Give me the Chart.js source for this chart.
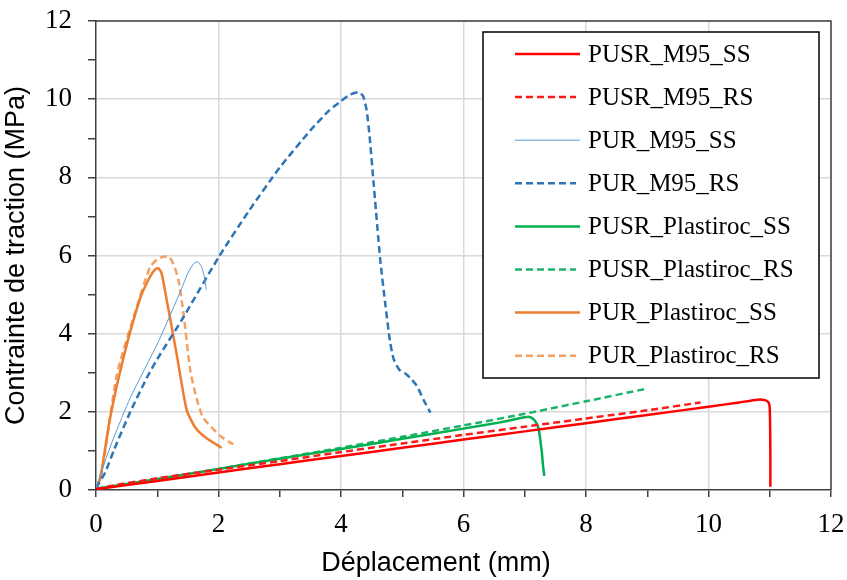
<!DOCTYPE html>
<html>
<head>
<meta charset="utf-8">
<script src="https://cdn.jsdelivr.net/npm/chart.js@4.4.1/dist/chart.umd.min.js"></script>
<style>
  html, body { margin: 0; padding: 0; background: #fff; }
  #wrap { width: 847px; height: 580px; }
</style>
</head>
<body>
<div id="wrap"><canvas id="chart" width="847" height="580"></canvas></div>
<script>
// axis ticks
const xTickValues = [0, 2, 4, 6, 8, 10, 12];
const yTickValues = [0, 2, 4, 6, 8, 10, 12];
const xTitle = 'Déplacement (mm)';
const yTitle = 'Contrainte de traction (MPa)';

// series: [déplacement (mm), contrainte (MPa)]
const pusrM95SS = [[0,0.02],[1,0.23],[2,0.45],[3,0.66],[4,0.87],[5,1.08],[6,1.29],[7,1.5],[8,1.71],[9,1.92],[10,2.13],[10.5,2.24],[10.8,2.31],[10.92,2.3],[10.98,2.24],[11.0,2.1],[11.01,1.0],[11.01,0.08]];
const pusrM95RS = [[0,0.02],[0.3,0.12],[1,0.3],[2,0.52],[3,0.74],[4,0.97],[5,1.19],[6,1.41],[7,1.62],[8,1.83],[9,2.04],[9.87,2.24]];
const purM95SS = [[0,0.05],[0.14,0.7],[0.28,1.3],[0.56,2.36],[1.02,3.8],[1.37,5.05],[1.5,5.55],[1.6,5.8],[1.66,5.84],[1.72,5.72],[1.77,5.45],[1.8,5.13]];
const purM95RS = [[0,0.05],[0.15,0.45],[0.3,1.05],[0.56,2.0],[0.83,2.87],[1,3.35],[1.4,4.35],[2,5.95],[2.5,7.15],[3,8.25],[3.5,9.2],[3.8,9.7],[4,9.95],[4.15,10.12],[4.28,10.18],[4.36,10.08],[4.42,9.7],[4.47,9.0],[4.53,7.9],[4.64,5.9],[4.72,4.8],[4.8,3.8],[4.86,3.35],[4.95,3.08],[5.05,2.98],[5.13,2.87],[5.24,2.66],[5.35,2.3],[5.46,1.98]];
const pusrPlastSS = [[0,0.03],[1,0.28],[2,0.54],[3,0.8],[4,1.05],[5,1.31],[6,1.57],[6.6,1.73],[7.0,1.86],[7.08,1.87],[7.15,1.8],[7.2,1.68],[7.23,1.55],[7.26,1.2],[7.28,0.95],[7.3,0.6],[7.32,0.36]];
const pusrPlastRS = [[0,0.03],[1,0.28],[2,0.54],[3,0.81],[4,1.08],[5,1.36],[6,1.65],[7,1.95],[8,2.27],[8.95,2.58]];
const purPlastSS = [[0,0.05],[0.07,0.3],[0.23,1.85],[0.45,3.4],[0.72,4.9],[0.88,5.45],[0.97,5.65],[1.02,5.67],[1.07,5.55],[1.15,4.9],[1.32,3.45],[1.48,2.05],[1.62,1.6],[1.8,1.33],[2.05,1.08]];
const purPlastRS = [[0,0.05],[0.1,0.5],[0.34,2.95],[0.61,4.4],[0.88,5.7],[1.0,5.9],[1.1,5.97],[1.2,5.96],[1.28,5.72],[1.35,5.35],[1.43,4.5],[1.54,3.05],[1.65,2.3],[1.75,1.85],[2.03,1.38],[2.24,1.17]];

const seriesNames = ['PUSR_M95_SS', 'PUSR_M95_RS', 'PUR_M95_SS', 'PUR_M95_RS',
  'PUSR_Plastiroc_SS', 'PUSR_Plastiroc_RS', 'PUR_Plastiroc_SS', 'PUR_Plastiroc_RS'];
const seriesData = [pusrM95SS, pusrM95RS, purM95SS, purM95RS, pusrPlastSS, pusrPlastRS, purPlastSS, purPlastRS];
const seriesColors = ['#ff0000', '#ff1a1a', '#5b9bd5', '#2e75b6', '#00b050', '#1db36a', '#ed7d31', '#f2a064'];
const seriesWidths = [2.5, 2.5, 1, 2.5, 2.5, 2.5, 2.5, 2.5];
const DASH = [7, 4];

const datasets = seriesNames.map((name, i) => ({
  label: name,
  data: seriesData[i].map(([x, y]) => ({ x, y })),
  borderColor: seriesColors[i],
  borderWidth: seriesWidths[i],
  borderDash: name.endsWith('_RS') ? DASH : [],
  pointRadius: 0,
  tension: 0.2,
  fill: false
}));

// plot frame on top + right
const frame = {
  id: 'frame',
  beforeDatasetsDraw(chart) {
    const { ctx, chartArea: a } = chart;
    ctx.save();
    ctx.strokeStyle = '#404040';
    ctx.lineWidth = 1.5;
    ctx.beginPath();
    ctx.moveTo(a.left, a.top);
    ctx.lineTo(a.right, a.top);
    ctx.lineTo(a.right, a.bottom);
    ctx.stroke();
    ctx.restore();
  }
};

// x title sits a bit left of the plot centre in the original
const xTitlePlugin = {
  id: 'xTitlePlugin',
  afterDraw(chart) {
    const ctx = chart.ctx;
    ctx.save();
    ctx.font = '27px "Liberation Sans", Arial, sans-serif';
    ctx.fillStyle = '#000';
    ctx.textAlign = 'center';
    ctx.textBaseline = 'middle';
    ctx.fillText(xTitle, 436, 564);
    ctx.restore();
  }
};

// boxed legend inside the plot
const boxLegend = {
  id: 'boxLegend',
  afterDraw(chart) {
    const ctx = chart.ctx;
    const left = 483, top = 32, right = 819, bottom = 378;
    ctx.save();
    ctx.fillStyle = '#fff';
    ctx.fillRect(left, top, right - left, bottom - top);
    ctx.strokeStyle = '#000';
    ctx.lineWidth = 1.5;
    ctx.strokeRect(left, top, right - left, bottom - top);
    ctx.font = '25px "Liberation Serif", "Times New Roman", serif';
    ctx.textBaseline = 'middle';
    chart.data.datasets.forEach((ds, i) => {
      const y = 54 + i * 43.1;
      ctx.strokeStyle = ds.borderColor;
      ctx.lineWidth = ds.borderWidth;
      ctx.setLineDash(ds.borderDash);
      ctx.beginPath();
      ctx.moveTo(515, y);
      ctx.lineTo(ds.borderDash.length ? 576 : 580, y);
      ctx.stroke();
      ctx.setLineDash([]);
      ctx.fillStyle = '#000';
      ctx.fillText(ds.label, 588, y + 1);
    });
    ctx.restore();
  }
};

const gridColor = (c) => (c.tick && c.tick.value % 2 === 0 && c.tick.value !== 0) ? '#d9d9d9' : 'rgba(0,0,0,0)';
const tickFont = { family: '"Liberation Serif", "Times New Roman", serif', size: 27 };
const titleFont = { family: '"Liberation Sans", Arial, sans-serif', size: 27 };
const allTicks = (s) => { s.ticks = Array.from({ length: 13 }, (_, k) => ({ value: k })); };

new Chart(document.getElementById('chart'), {
  type: 'line',
  data: { datasets },
  options: {
    responsive: false,
    animation: false,
    layout: { padding: { left: 0, right: 16, top: 21, bottom: 0 } },
    plugins: { legend: { display: false }, tooltip: { enabled: false } },
    scales: {
      x: {
        type: 'linear', min: 0, max: 12,
        afterBuildTicks: allTicks,
        afterFit: (s) => { s.height = 90; s.paddingLeft = 0; s.paddingRight = 0; },
        border: { color: '#404040', width: 1.5 },
        grid: { color: gridColor, lineWidth: 1.5, tickColor: '#404040', tickLength: 7, tickWidth: 1.5 },
        ticks: {
          color: '#000', font: tickFont, padding: 12, maxRotation: 0, autoSkip: false,
          callback: (v) => xTickValues.includes(v) ? String(v) : ''
        },
        title: { display: false }
      },
      y: {
        type: 'linear', min: 0, max: 12,
        afterBuildTicks: allTicks,
        afterFit: (s) => { s.width = 96; s.paddingTop = 0; s.paddingBottom = 0; },
        border: { color: '#404040', width: 1.5 },
        grid: { color: gridColor, lineWidth: 1.5, tickColor: '#404040', tickLength: 8, tickWidth: 1.5 },
        ticks: {
          color: '#000', font: tickFont, padding: 16, autoSkip: false,
          callback: (v) => yTickValues.includes(v) ? String(v) : ''
        },
        title: { display: true, text: yTitle, color: '#000', font: titleFont, padding: { top: 0, bottom: 0 } }
      }
    }
  },
  plugins: [frame, xTitlePlugin, boxLegend]
});
</script>
</body>
</html>
